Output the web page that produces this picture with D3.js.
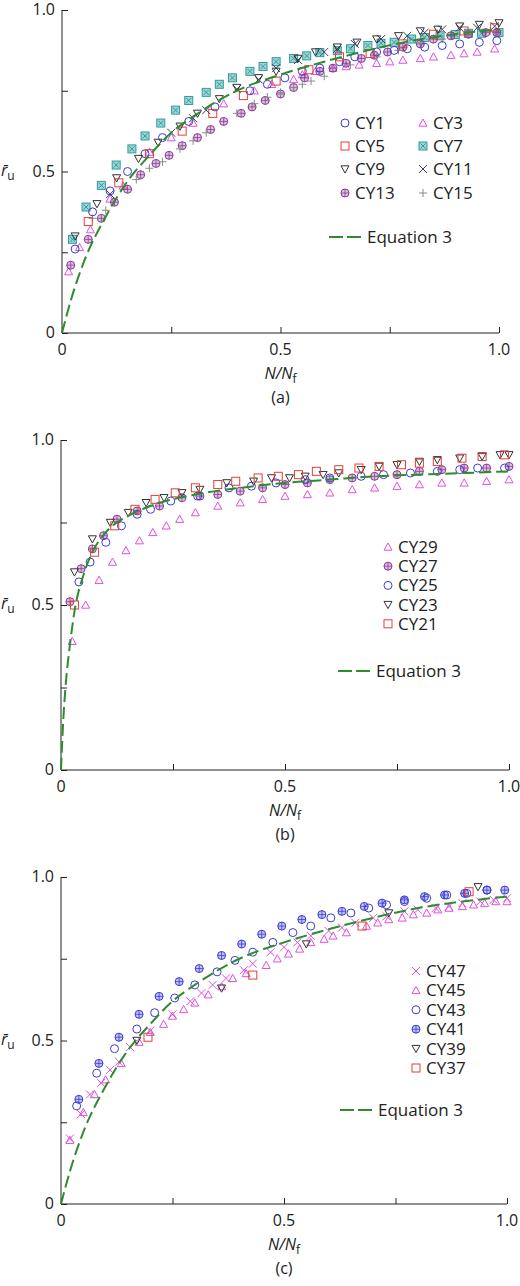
<!DOCTYPE html>
<html><head><meta charset="utf-8">
<script src="https://cdn.jsdelivr.net/npm/d3@7"></script>
<style>body{margin:0;background:#fff}text{font-family:"Open Sans","Noto Sans",sans-serif;fill:#222}</style>
</head><body><svg id="chart" width="520" height="1286"></svg>
<script>
// equation 3 curves
const eqA = [[0,0],[0.02,0.1],[0.05,0.22],[0.1,0.36],[0.15,0.47],[0.2,0.55],[0.25,0.62],[0.3,0.67],[0.4,0.75],[0.5,0.80],[0.6,0.84],[0.7,0.875],[0.8,0.905],[0.9,0.925],[1.0,0.94]];
const eqB = [[0,0],[0.005,0.15],[0.01,0.25],[0.02,0.38],[0.03,0.48],[0.05,0.59],[0.07,0.66],[0.1,0.72],[0.15,0.77],[0.2,0.80],[0.3,0.835],[0.4,0.855],[0.5,0.87],[0.6,0.88],[0.7,0.89],[0.8,0.895],[0.9,0.9],[1.0,0.905]];
const eqC = eqA;

// panel (a)
const cy1 = [[0.03,0.26],[0.07,0.375],[0.11,0.44],[0.15,0.50],[0.19,0.555],[0.23,0.605],[0.29,0.655],[0.35,0.70],[0.43,0.75],[0.47,0.77],[0.51,0.79],[0.55,0.81],[0.59,0.82],[0.635,0.84],[0.67,0.855],[0.72,0.87],[0.76,0.875],[0.79,0.88],[0.83,0.885],[0.87,0.89],[0.91,0.895],[0.955,0.90],[0.995,0.905]];
const cy3 = [[0.015,0.19],[0.04,0.265],[0.065,0.32],[0.11,0.415],[0.14,0.455],[0.2,0.56],[0.25,0.605],[0.3,0.65],[0.37,0.71],[0.44,0.75],[0.48,0.77],[0.53,0.785],[0.55,0.80],[0.58,0.81],[0.62,0.82],[0.65,0.825],[0.68,0.83],[0.72,0.835],[0.75,0.84],[0.78,0.845],[0.82,0.85],[0.85,0.855],[0.89,0.86],[0.92,0.865],[0.95,0.87],[0.99,0.88]];
const cy5 = [[0.06,0.345],[0.13,0.465],[0.2,0.555],[0.275,0.625],[0.345,0.68],[0.415,0.735],[0.49,0.78],[0.565,0.815],[0.635,0.855],[0.705,0.865],[0.78,0.895],[0.85,0.925],[0.92,0.935],[0.99,0.945]];
const cy7 = [[0.024,0.29],[0.055,0.39],[0.09,0.457],[0.124,0.52],[0.16,0.57],[0.19,0.61],[0.226,0.65],[0.26,0.69],[0.29,0.72],[0.33,0.745],[0.36,0.77],[0.39,0.79],[0.43,0.81],[0.46,0.825],[0.49,0.84],[0.53,0.85],[0.56,0.858],[0.59,0.868],[0.63,0.874],[0.66,0.88],[0.70,0.89],[0.73,0.897],[0.76,0.90],[0.80,0.91],[0.83,0.915],[0.865,0.92],[0.90,0.924],[0.93,0.928],[0.96,0.928],[1.0,0.93]];
const cy9 = [[0.03,0.30],[0.08,0.40],[0.125,0.48],[0.175,0.54],[0.22,0.59],[0.27,0.64],[0.31,0.68],[0.36,0.725],[0.40,0.76],[0.45,0.79],[0.49,0.81],[0.54,0.85],[0.58,0.87],[0.63,0.885],[0.675,0.90],[0.72,0.91],[0.77,0.92],[0.82,0.935],[0.86,0.94],[0.91,0.95],[0.955,0.955],[1.0,0.96]];
const cy11 = [[0.11,0.43],[0.25,0.62],[0.3,0.665],[0.33,0.69],[0.4,0.755],[0.45,0.785],[0.49,0.82],[0.54,0.845],[0.6,0.87],[0.63,0.88],[0.67,0.895],[0.73,0.91],[0.79,0.92],[0.83,0.93],[0.87,0.94],[0.91,0.945],[0.95,0.945],[0.99,0.95]];
const cy13 = [[0.02,0.21],[0.06,0.29],[0.09,0.355],[0.12,0.405],[0.15,0.445],[0.18,0.49],[0.215,0.525],[0.245,0.55],[0.275,0.58],[0.31,0.605],[0.34,0.63],[0.37,0.655],[0.41,0.68],[0.435,0.70],[0.465,0.72],[0.5,0.74],[0.53,0.76],[0.555,0.79],[0.59,0.81],[0.62,0.82],[0.65,0.835],[0.685,0.85],[0.715,0.86],[0.745,0.87],[0.78,0.885],[0.82,0.895],[0.85,0.91],[0.89,0.92],[0.93,0.925],[0.97,0.93],[0.995,0.93]];
const cy15 = [[0.07,0.355],[0.1,0.38],[0.17,0.475],[0.2,0.51],[0.23,0.53],[0.27,0.57],[0.3,0.595],[0.33,0.62],[0.4,0.68],[0.44,0.71],[0.47,0.73],[0.5,0.745],[0.53,0.76],[0.55,0.77],[0.57,0.78],[0.6,0.795],[0.66,0.83],[0.72,0.855],[0.77,0.875],[0.82,0.9],[0.87,0.91],[0.93,0.93],[0.98,0.935]];

// panel (b)
const cy29 = [[0.025,0.39],[0.055,0.50],[0.085,0.575],[0.115,0.63],[0.145,0.665],[0.175,0.695],[0.205,0.72],[0.235,0.74],[0.265,0.76],[0.3,0.78],[0.35,0.80],[0.4,0.81],[0.45,0.82],[0.5,0.83],[0.55,0.835],[0.6,0.84],[0.65,0.85],[0.7,0.855],[0.75,0.86],[0.8,0.865],[0.85,0.87],[0.9,0.87],[0.95,0.875],[1.0,0.88]];
const cy27 = [[0.02,0.51],[0.045,0.61],[0.07,0.67],[0.095,0.71],[0.125,0.76],[0.17,0.785],[0.22,0.80],[0.27,0.825],[0.31,0.83],[0.35,0.835],[0.4,0.845],[0.45,0.855],[0.5,0.865],[0.55,0.87],[0.6,0.88],[0.65,0.885],[0.7,0.89],[0.75,0.895],[0.8,0.905],[0.85,0.91],[0.9,0.915],[0.95,0.915],[1.0,0.92]];
const cy25 = [[0.04,0.57],[0.065,0.63],[0.1,0.69],[0.135,0.74],[0.17,0.775],[0.2,0.79],[0.245,0.815],[0.305,0.83],[0.375,0.855],[0.425,0.86],[0.48,0.87],[0.545,0.88],[0.6,0.885],[0.67,0.89],[0.72,0.895],[0.78,0.90],[0.84,0.905],[0.89,0.91],[0.93,0.915],[0.99,0.915]];
const cy23 = [[0.03,0.60],[0.07,0.70],[0.11,0.75],[0.15,0.78],[0.19,0.81],[0.23,0.825],[0.27,0.84],[0.31,0.85],[0.37,0.87],[0.43,0.875],[0.47,0.885],[0.51,0.885],[0.545,0.89],[0.585,0.895],[0.62,0.9],[0.67,0.91],[0.71,0.92],[0.75,0.925],[0.8,0.935],[0.84,0.94],[0.89,0.945],[0.94,0.95],[0.98,0.955],[1.0,0.955]];
const cy21 = [[0.03,0.50],[0.075,0.66],[0.12,0.74],[0.165,0.79],[0.21,0.82],[0.255,0.84],[0.3,0.855],[0.35,0.865],[0.39,0.875],[0.44,0.885],[0.485,0.89],[0.53,0.895],[0.57,0.905],[0.62,0.91],[0.665,0.915],[0.71,0.92],[0.76,0.925],[0.8,0.93],[0.84,0.935],[0.895,0.945],[0.94,0.95],[0.99,0.955]];

// panel (c)
const cy47 = [[0.02,0.2],[0.045,0.275],[0.065,0.335],[0.09,0.37],[0.11,0.41],[0.13,0.435],[0.155,0.48],[0.2,0.53],[0.25,0.58],[0.29,0.62],[0.315,0.645],[0.34,0.67],[0.37,0.69],[0.41,0.715],[0.43,0.735],[0.47,0.77],[0.5,0.785],[0.53,0.80],[0.56,0.82],[0.6,0.835],[0.63,0.845],[0.66,0.86],[0.7,0.875],[0.73,0.88],[0.77,0.895],[0.8,0.90],[0.84,0.905],[0.87,0.91],[0.9,0.92],[0.94,0.925],[0.97,0.93],[1.0,0.935]];
const cy45 = [[0.02,0.195],[0.05,0.28],[0.075,0.335],[0.1,0.38],[0.135,0.43],[0.175,0.495],[0.2,0.525],[0.23,0.55],[0.25,0.575],[0.275,0.595],[0.3,0.615],[0.33,0.64],[0.36,0.665],[0.385,0.69],[0.415,0.705],[0.46,0.73],[0.485,0.75],[0.51,0.765],[0.535,0.78],[0.56,0.80],[0.59,0.81],[0.61,0.82],[0.64,0.83],[0.685,0.85],[0.71,0.86],[0.735,0.87],[0.765,0.875],[0.79,0.885],[0.82,0.89],[0.845,0.90],[0.87,0.905],[0.9,0.91],[0.925,0.915],[0.95,0.92],[0.975,0.925],[1.0,0.925]];
const cy43 = [[0.035,0.3],[0.08,0.4],[0.12,0.475],[0.17,0.535],[0.21,0.585],[0.255,0.63],[0.3,0.67],[0.35,0.71],[0.39,0.745],[0.43,0.77],[0.475,0.8],[0.52,0.83],[0.56,0.85],[0.605,0.875],[0.65,0.89],[0.69,0.905],[0.73,0.915],[0.77,0.925],[0.82,0.935],[0.865,0.945],[0.91,0.95],[0.955,0.96]];
const cy41 = [[0.04,0.32],[0.085,0.43],[0.13,0.51],[0.175,0.58],[0.22,0.635],[0.265,0.68],[0.31,0.72],[0.36,0.76],[0.405,0.795],[0.45,0.825],[0.495,0.85],[0.54,0.87],[0.585,0.885],[0.63,0.895],[0.68,0.91],[0.72,0.92],[0.77,0.93],[0.815,0.94],[0.86,0.945],[0.905,0.95],[0.955,0.96],[0.995,0.96]];
const cy39 = [[0.17,0.5],[0.36,0.66],[0.55,0.795],[0.735,0.89],[0.935,0.97]];
const cy37 = [[0.195,0.51],[0.43,0.70],[0.675,0.85],[0.915,0.955]];

const xTicks = [0, 0.25, 0.5, 0.75, 1.0];
const yTicks = [0, 0.25, 0.5, 0.75, 1.0];
const tickLabels = {0: "0", 0.5: "0.5", 1: "1.0"};

const BLUE = "#3b3bd6", RED = "#e0403a", DARK = "#333", MAG = "#e04fe0",
      TEAL = "#2f9c9c", NAVY = "#3a3a6a", PURP = "#8a3a96", GREY = "#8a8a8a";

const svg = d3.select("#chart");

// draw one marker of a given type
function marker(g, type, color, x, y) {
  const r = 4;
  if (type === "circle") {
    g.append("circle").attr("cx", x).attr("cy", y).attr("r", r).attr("fill", "none").attr("stroke", color).attr("stroke-width", 1);
  } else if (type === "square") {
    g.append("rect").attr("x", x - r).attr("y", y - r).attr("width", 2 * r).attr("height", 2 * r).attr("fill", "none").attr("stroke", color);
  } else if (type === "triUp" || type === "triDown") {
    const s = type === "triUp" ? 1 : -1;
    g.append("path").attr("d", `M${x},${y - s * r}L${x + r},${y + s * r * 0.8}L${x - r},${y + s * r * 0.8}Z`).attr("fill", "none").attr("stroke", color);
  } else if (type === "boxX") {
    g.append("rect").attr("x", x - r).attr("y", y - r).attr("width", 2 * r).attr("height", 2 * r).attr("fill", "#9fd4d4").attr("stroke", color);
    g.append("path").attr("d", `M${x - 2.5},${y - 2.5}L${x + 2.5},${y + 2.5}M${x - 2.5},${y + 2.5}L${x + 2.5},${y - 2.5}`).attr("stroke", color);
  } else if (type === "x") {
    g.append("path").attr("d", `M${x - r},${y - r}L${x + r},${y + r}M${x - r},${y + r}L${x + r},${y - r}`).attr("stroke", color);
  } else if (type === "plus") {
    g.append("path").attr("d", `M${x - r},${y}L${x + r},${y}M${x},${y - r}L${x},${y + r}`).attr("stroke", color);
  } else if (type === "circlePlus") {
    g.append("circle").attr("cx", x).attr("cy", y).attr("r", r).attr("fill", d3.color(color).copy({opacity: 0.3})).attr("stroke", color);
    g.append("path").attr("d", `M${x - r},${y}L${x + r},${y}M${x},${y - r}L${x},${y + r}`).attr("stroke", color).attr("stroke-width", 0.8);
  }
}

function panel(cfg) {
  const x = d3.scaleLinear().domain([0, 1]).range([cfg.x0, cfg.x1]);
  const y = d3.scaleLinear().domain([0, 1]).range([cfg.y0, cfg.y1]);
  const g = svg.append("g");

  // axes with inward ticks
  g.append("g").attr("transform", `translate(0,${cfg.y0})`)
    .call(d3.axisTop(x).tickValues(xTicks).tickSize(6).tickFormat(""))
    .call(a => a.select(".domain").attr("d", `M${cfg.x0},0H${cfg.x1}`));
  g.append("g").attr("transform", `translate(${cfg.x0},0)`)
    .call(d3.axisRight(y).tickValues(yTicks).tickSize(6).tickFormat(""))
    .call(a => a.select(".domain").attr("d", `M0,${cfg.y0}V${cfg.y1}`));
  g.selectAll(".domain, .tick line").attr("stroke", "#222").attr("stroke-width", 1);

  [0, 0.5, 1].forEach(v => {
    g.append("text").attr("x", x(v)).attr("y", cfg.y0 + 22).attr("text-anchor", "middle").attr("font-size", 16).text(tickLabels[v]);
    g.append("text").attr("x", cfg.x0 - 7).attr("y", y(v) + 5).attr("text-anchor", "end").attr("font-size", 16).text(tickLabels[v]);
  });

  // y label r̄u
  const yl = g.append("text").attr("x", 1).attr("y", y(0.5) + 4).attr("font-size", 16);
  yl.append("tspan").attr("font-style", "italic").text("r\u0304");
  yl.append("tspan").attr("font-size", 12).attr("dy", 4).text("u");
  // x label N/Nf
  const xl = g.append("text").attr("x", x(0.5)).attr("y", cfg.y0 + 46).attr("text-anchor", "middle").attr("font-size", 16).attr("font-style", "italic");
  xl.append("tspan").text("N/N");
  xl.append("tspan").attr("font-size", 12).attr("dy", 4).attr("font-style", "normal").text("f");
  g.append("text").attr("x", x(0.5)).attr("y", cfg.y0 + 70).attr("text-anchor", "middle").attr("font-size", 16).text(cfg.caption);

  // series
  cfg.series.forEach(s => {
    const sg = g.append("g");
    s.data.forEach(d => marker(sg, s.type, s.color, x(d[0]), y(d[1])));
  });

  // equation 3
  g.append("path").datum(cfg.eq)
    .attr("d", d3.line().x(d => x(d[0])).y(d => y(d[1])).curve(d3.curveMonotoneX))
    .attr("fill", "none").attr("stroke", "#2e8b2e").attr("stroke-width", 2).attr("stroke-dasharray", "12,5");

  // legend
  cfg.legend.forEach(l => {
    marker(g, l.type, l.color, l.x, l.y);
    g.append("text").attr("x", l.x + 10).attr("y", l.y + 6).attr("font-size", 17).text(l.name);
  });
  g.append("line").attr("x1", cfg.eqLeg[0]).attr("x2", cfg.eqLeg[0] + 34).attr("y1", cfg.eqLeg[1]).attr("y2", cfg.eqLeg[1])
    .attr("stroke", "#2e8b2e").attr("stroke-width", 2).attr("stroke-dasharray", "14,4");
  g.append("text").attr("x", cfg.eqLeg[0] + 38).attr("y", cfg.eqLeg[1] + 6).attr("font-size", 17).text("Equation 3");
}

const sA = [
  {name: "CY7", type: "boxX", color: TEAL, data: cy7},
  {name: "CY3", type: "triUp", color: MAG, data: cy3},
  {name: "CY13", type: "circlePlus", color: PURP, data: cy13},
  {name: "CY15", type: "plus", color: GREY, data: cy15},
  {name: "CY1", type: "circle", color: BLUE, data: cy1},
  {name: "CY5", type: "square", color: RED, data: cy5},
  {name: "CY11", type: "x", color: NAVY, data: cy11},
  {name: "CY9", type: "triDown", color: DARK, data: cy9}
];
const sty = Object.fromEntries(sA.map(s => [s.name, s]));
const legA = [["CY1", 345, 123], ["CY3", 423, 123], ["CY5", 345, 146], ["CY7", 423, 146], ["CY9", 345, 169], ["CY11", 423, 169], ["CY13", 345, 193], ["CY15", 423, 193]]
  .map(([n, lx, ly]) => ({name: n, type: sty[n].type, color: sty[n].color, x: lx, y: ly}));
panel({x0: 62, x1: 499, y0: 333, y1: 10, caption: "(a)", series: sA, eq: eqA, legend: legA, eqLeg: [329, 237]});

const sB = [
  {name: "CY29", type: "triUp", color: MAG, data: cy29},
  {name: "CY27", type: "circlePlus", color: PURP, data: cy27},
  {name: "CY25", type: "circle", color: BLUE, data: cy25},
  {name: "CY23", type: "triDown", color: DARK, data: cy23},
  {name: "CY21", type: "square", color: RED, data: cy21}
];
panel({x0: 61, x1: 509, y0: 770, y1: 440, caption: "(b)", series: sB, eq: eqB,
  legend: sB.map((s, i) => ({name: s.name, type: s.type, color: s.color, x: 388, y: 547 + i * 19.2})), eqLeg: [338, 671]});

const sC = [
  {name: "CY47", type: "x", color: MAG, data: cy47},
  {name: "CY45", type: "triUp", color: MAG, data: cy45},
  {name: "CY43", type: "circle", color: BLUE, data: cy43},
  {name: "CY41", type: "circlePlus", color: BLUE, data: cy41},
  {name: "CY39", type: "triDown", color: DARK, data: cy39},
  {name: "CY37", type: "square", color: RED, data: cy37}
];
panel({x0: 61, x1: 507, y0: 1204, y1: 877, caption: "(c)", series: sC, eq: eqC,
  legend: sC.map((s, i) => ({name: s.name, type: s.type, color: s.color, x: 416, y: 971 + i * 19.4})), eqLeg: [340, 1110]});
</script>
</body></html>
